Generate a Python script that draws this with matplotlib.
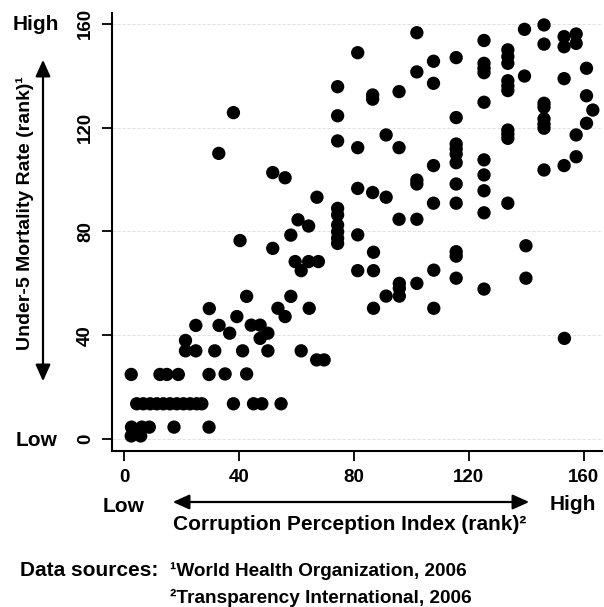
import matplotlib
matplotlib.use("Agg")
import matplotlib.pyplot as plt
from matplotlib.patches import FancyArrowPatch

plt.rcParams["font.family"] = ["Liberation Sans", "DejaVu Sans"]
plt.rcParams["font.weight"] = "bold"

# Corruption Perception Index rank (x) vs Under-5 mortality rank (y)
cpi_rank = [
    2.4, 12.4, 14.8, 18.8, 29.5, 35.1, 42.6,
    4.3, 6.6, 9.0, 11.3, 13.6, 15.9, 18.3, 20.6, 22.9, 25.2, 27.0, 38.0, 45.0, 47.9, 54.6,
    2.5, 6.1, 8.7, 17.3, 29.5,
    2.4, 5.7,
    21.3, 24.9, 31.5, 41.2, 50.0, 61.6, 67.0, 69.6,
    21.3, 47.3, 36.7, 50.0, 24.9, 33.0, 44.2, 47.3, 39.2, 56.0, 29.6, 53.5, 64.4, 42.6, 58.0,
    59.5, 61.6, 64.2, 67.6, 51.7, 40.3, 58.0, 60.5, 64.2, 67.1,
    74.3, 74.3, 74.3, 74.3, 74.3, 74.3, 74.3, 74.3, 74.3,
    81.3, 81.3, 81.3, 81.3, 81.3,
    32.9, 38.0, 51.7, 56.0,
    86.8, 86.8, 86.8, 86.5, 86.5, 86.5,
    91.2, 91.2, 91.2,
    95.8, 95.8, 95.8, 95.7, 95.7, 95.7,
    101.9, 101.9, 101.9, 101.9, 101.9, 101.9,
    107.8, 107.8, 107.7, 107.7, 107.7, 107.7,
    115.6, 115.6, 115.6, 115.6, 115.6, 115.6, 115.6, 115.6, 115.6, 115.6, 115.6,
    125.3, 125.3, 125.3, 125.3, 125.3, 125.3, 125.3, 125.3, 125.3, 125.3,
    133.6, 133.6, 133.6, 133.6, 133.6, 133.6, 133.6, 133.6, 133.6, 133.6,
    139.9, 139.9, 139.4, 139.4,
    146.2, 146.2, 146.2, 146.2, 146.2, 146.2, 146.2, 146.2,
    153.3, 153.2, 153.2, 153.2, 153.2,
    157.4, 157.4, 157.4, 157.4,
    161.0, 161.0, 161.0, 163.2,
]
u5mr_rank = [
    24.9, 24.9, 24.9, 24.9, 24.9, 25.1, 25.1,
    13.6, 13.6, 13.6, 13.6, 13.6, 13.6, 13.6, 13.6, 13.6, 13.6, 13.6, 13.6, 13.6, 13.6, 13.6,
    4.6, 4.6, 4.6, 4.6, 4.6,
    1.2, 1.2,
    34.0, 34.0, 34.0, 34.0, 34.0, 34.0, 30.5, 30.5,
    38.0, 38.8, 40.8, 40.8, 43.8, 43.8, 43.9, 43.9, 47.2, 47.2, 50.3, 50.4, 50.4, 55.0, 55.0,
    68.4, 64.9, 68.4, 68.4, 73.5, 76.5, 78.6, 84.5, 82.1, 93.2,
    88.9, 86.4, 82.5, 79.9, 77.4, 75.4, 114.9, 124.6, 135.8,
    78.7, 64.9, 96.6, 112.3, 148.9,
    110.1, 125.8, 102.7, 100.7,
    72.0, 64.9, 50.4, 95.0, 132.6, 131.0,
    55.1, 93.2, 117.2,
    60.0, 58.1, 55.1, 84.7, 112.3, 133.9,
    60.0, 84.7, 98.3, 99.8, 141.5, 156.6,
    50.4, 65.1, 90.9, 105.4, 137.1, 145.6,
    62.0, 70.5, 72.2, 90.9, 98.3, 106.5, 109.8, 111.8, 113.7, 123.9, 147.0,
    57.8, 87.2, 95.7, 101.8, 107.6, 129.8, 141.2, 142.9, 144.8, 153.6,
    90.9, 115.9, 117.5, 119.1, 134.3, 136.1, 138.1, 144.8, 147.4, 150.0,
    62.0, 74.5, 139.9, 157.9,
    103.7, 119.8, 121.4, 123.4, 127.9, 129.4, 152.2, 159.6,
    38.8, 105.4, 138.9, 151.2, 155.1,
    108.8, 117.2, 152.5, 156.1,
    121.7, 132.3, 142.9, 126.8,
]
tick_values = [0, 40, 80, 120, 160]

W, H = 604, 607


def fx(px):
    return px / W


def fy(py):
    return 1 - py / H


def double_arrow(fig, start, end):
    fig.add_artist(FancyArrowPatch(
        start, end, transform=fig.transFigure,
        arrowstyle="<|-|>,head_length=1.0,head_width=0.45",
        mutation_scale=10, linewidth=1.6, color="black"))


fig = plt.figure(figsize=(W / 100, H / 100), dpi=100)
ax = fig.add_axes([fx(112), fy(451), (602 - 112) / W, (451 - 13) / H])

ax.scatter(cpi_rank, u5mr_rank, s=92, color="black", edgecolors="none", zorder=3)

ax.set_xlim(-4.3, 166.4)
ax.set_ylim(-4.6, 164.2)
ax.set_xticks(tick_values)
ax.set_yticks(tick_values)
ax.set_xticklabels([str(t) for t in tick_values], fontsize=13.5, fontweight="bold")
ax.set_yticklabels([str(t) for t in tick_values], fontsize=13.5, fontweight="bold",
                   rotation=90, va="center")
ax.tick_params(axis="x", length=7, width=1.3, direction="out", pad=6)
ax.tick_params(axis="y", length=7, width=1.3, direction="out", pad=6)
ax.grid(axis="y", color="#dcdcdc", linewidth=0.6, linestyle=(0, (4, 2)))
ax.set_axisbelow(True)
for side in ("top", "right"):
    ax.spines[side].set_visible(False)
for side in ("left", "bottom"):
    ax.spines[side].set_linewidth(1.5)

txt = dict(fontsize=15, fontweight="bold", color="black")
src = dict(fontsize=13.7, fontweight="bold", color="black")

# y-axis annotation
fig.text(fx(36), fy(25), "High", ha="center", va="center", **txt)
fig.text(fx(37), fy(441), "Low", ha="center", va="center", **txt)
fig.text(fx(25), fy(213), "Under-5 Mortality Rate (rank)\u00b9", rotation=90,
         ha="center", va="center", fontsize=14, fontweight="bold")
double_arrow(fig, (fx(43), fy(384)), (fx(43), fy(57)))

# x-axis annotation
fig.text(fx(124), fy(507), "Low", ha="center", va="center", **txt)
fig.text(fx(573), fy(505), "High", ha="center", va="center", **txt)
fig.text(fx(350), fy(524), "Corruption Perception Index (rank)\u00b2",
         ha="center", va="center", **txt)
double_arrow(fig, (fx(170), fy(502)), (fx(532), fy(502)))

# data sources
fig.text(fx(20), fy(571), "Data sources:", ha="left", va="center", **txt)
fig.text(fx(170), fy(571), "\u00b9World Health Organization, 2006", ha="left", va="center", **src)
fig.text(fx(170), fy(598), "\u00b2Transparency International, 2006", ha="left", va="center", **src)

fig.savefig("out.png", dpi=100)
